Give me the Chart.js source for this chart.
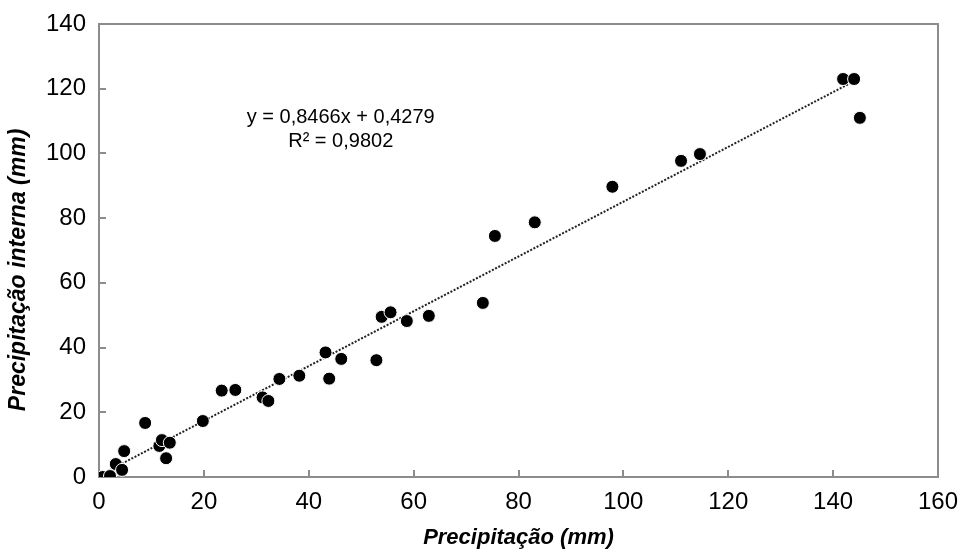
<!DOCTYPE html>
<html>
<head>
<meta charset="utf-8">
<script src="https://cdn.jsdelivr.net/npm/chart.js@4.4.0/dist/chart.umd.min.js"></script>
<style>
    html, body { margin: 0; padding: 0; background: #fff; }
    #wrap { width: 960px; height: 558px; }
</style>
</head>
<body>
<div id="wrap"><canvas id="scatterChart" width="960" height="558"></canvas></div>
<script>
// Precipitação (mm) vs Precipitação interna (mm)
const precipitacao = [0.7, 2.1, 3.2, 4.4, 4.8, 8.8, 11.5, 12.0, 12.8, 13.5, 19.8, 23.4, 26.0, 31.2, 32.3,
    34.4, 38.2, 43.2, 43.9, 46.2, 52.9, 53.9, 55.6, 58.7, 62.9, 73.2, 75.5, 83.1, 97.9, 111.0,
    114.6, 141.9, 144.0, 145.1];
const precipInterna = [0.0, 0.3, 4.0, 2.2, 8.0, 16.7, 9.6, 11.4, 5.8, 10.6, 17.3, 26.7, 26.9, 24.6, 23.5,
    30.3, 31.3, 38.5, 30.4, 36.5, 36.1, 49.5, 50.9, 48.2, 49.8, 53.8, 74.5, 78.7, 89.7, 97.7,
    99.8, 123.0, 123.0, 111.0];

// Linear trend as printed on the chart
const slope = 0.8466;
const intercept = 0.4279;
const equationLines = ['y = 0,8466x + 0,4279', 'R² = 0,9802'];

const xTicks = [0, 20, 40, 60, 80, 100, 120, 140, 160];
const yTicks = [0, 20, 40, 60, 80, 100, 120, 140];
const yTitle = 'Precipitação interna (mm)';

const axisColor = '#8c8c8c';
const fontFamily = "'Liberation Sans', Arial, sans-serif";

const points = precipitacao.map((x, i) => ({ x: x, y: precipInterna[i] }));
const xMin = Math.min(...precipitacao);
const xMax = Math.max(...precipitacao);
const trend = [xMin, xMax].map(x => ({ x: x, y: slope * x + intercept }));

// Box around the plot area, inward tick marks, y title and the equation text
const framePlugin = {
    id: 'frame',
    beforeDatasetsDraw(chart) {
        const { ctx, chartArea: a, scales } = chart;
        ctx.save();
        ctx.strokeStyle = axisColor;
        ctx.lineWidth = 2;
        ctx.beginPath();
        xTicks.forEach(v => {
            const px = Math.round(scales.x.getPixelForValue(v));
            ctx.moveTo(px, a.bottom);
            ctx.lineTo(px, a.bottom - 7);
        });
        yTicks.forEach(v => {
            const py = Math.round(scales.y.getPixelForValue(v));
            ctx.moveTo(a.left, py);
            ctx.lineTo(a.left + 7, py);
        });
        ctx.stroke();
        ctx.strokeRect(a.left, a.top, a.right - a.left, a.bottom - a.top);

        ctx.fillStyle = '#000';
        ctx.font = '20px ' + fontFamily;
        ctx.textAlign = 'center';
        ctx.textBaseline = 'middle';
        const cx = scales.x.getPixelForValue(46.1);
        ctx.fillText(equationLines[0], cx, scales.y.getPixelForValue(111));
        ctx.fillText(equationLines[1], cx, scales.y.getPixelForValue(103.8));

        // y axis title, sits a little below the middle like the original
        ctx.translate(19, scales.y.getPixelForValue(64));
        ctx.rotate(-Math.PI / 2);
        ctx.font = 'italic bold 23px ' + fontFamily;
        ctx.fillText(yTitle, 0, 0);
        ctx.restore();
    }
};

const ctx = document.getElementById('scatterChart').getContext('2d');

new Chart(ctx, {
    type: 'scatter',
    data: {
        datasets: [
            {
                type: 'line',
                label: 'Tendência',
                data: trend,
                borderColor: '#222',
                borderWidth: 2,
                borderDash: [2, 1.6],
                pointRadius: 0,
                fill: false,
                order: 2
            },
            {
                label: 'Precipitação interna',
                data: points,
                backgroundColor: '#000',
                borderColor: '#ffffff',
                borderWidth: 1,
                pointRadius: 6.5,
                order: 1
            }
        ]
    },
    options: {
        responsive: false,
        animation: false,
        layout: { padding: { top: 24, right: 22, left: 0, bottom: 0 } },
        plugins: {
            legend: { display: false },
            tooltip: { enabled: false }
        },
        scales: {
            x: {
                type: 'linear',
                min: 0,
                max: 160,
                afterFit: (scale) => {
                    scale.height = 81;
                    scale.paddingLeft = 0;
                    scale.paddingRight = 0;
                },
                afterBuildTicks: (scale) => { scale.ticks = xTicks.map(v => ({ value: v })); },
                grid: { display: false, drawTicks: false },
                border: { display: false },
                ticks: {
                    color: '#000',
                    padding: 11,
                    font: { family: fontFamily, size: 24 }
                },
                title: {
                    display: true,
                    text: 'Precipitação (mm)',
                    color: '#000',
                    padding: { top: 0, bottom: 7 },
                    font: { family: fontFamily, size: 22, weight: 'bold', style: 'italic' }
                }
            },
            y: {
                type: 'linear',
                min: 0,
                max: 140,
                afterFit: (scale) => {
                    scale.width = 99;
                    scale.paddingTop = 0;
                    scale.paddingBottom = 0;
                },
                afterBuildTicks: (scale) => { scale.ticks = yTicks.map(v => ({ value: v })); },
                grid: { display: false, drawTicks: false },
                border: { display: false },
                ticks: {
                    color: '#000',
                    padding: 13,
                    font: { family: fontFamily, size: 24 }
                },
                title: { display: false }
            }
        }
    },
    plugins: [framePlugin]
});
</script>
</body>
</html>
